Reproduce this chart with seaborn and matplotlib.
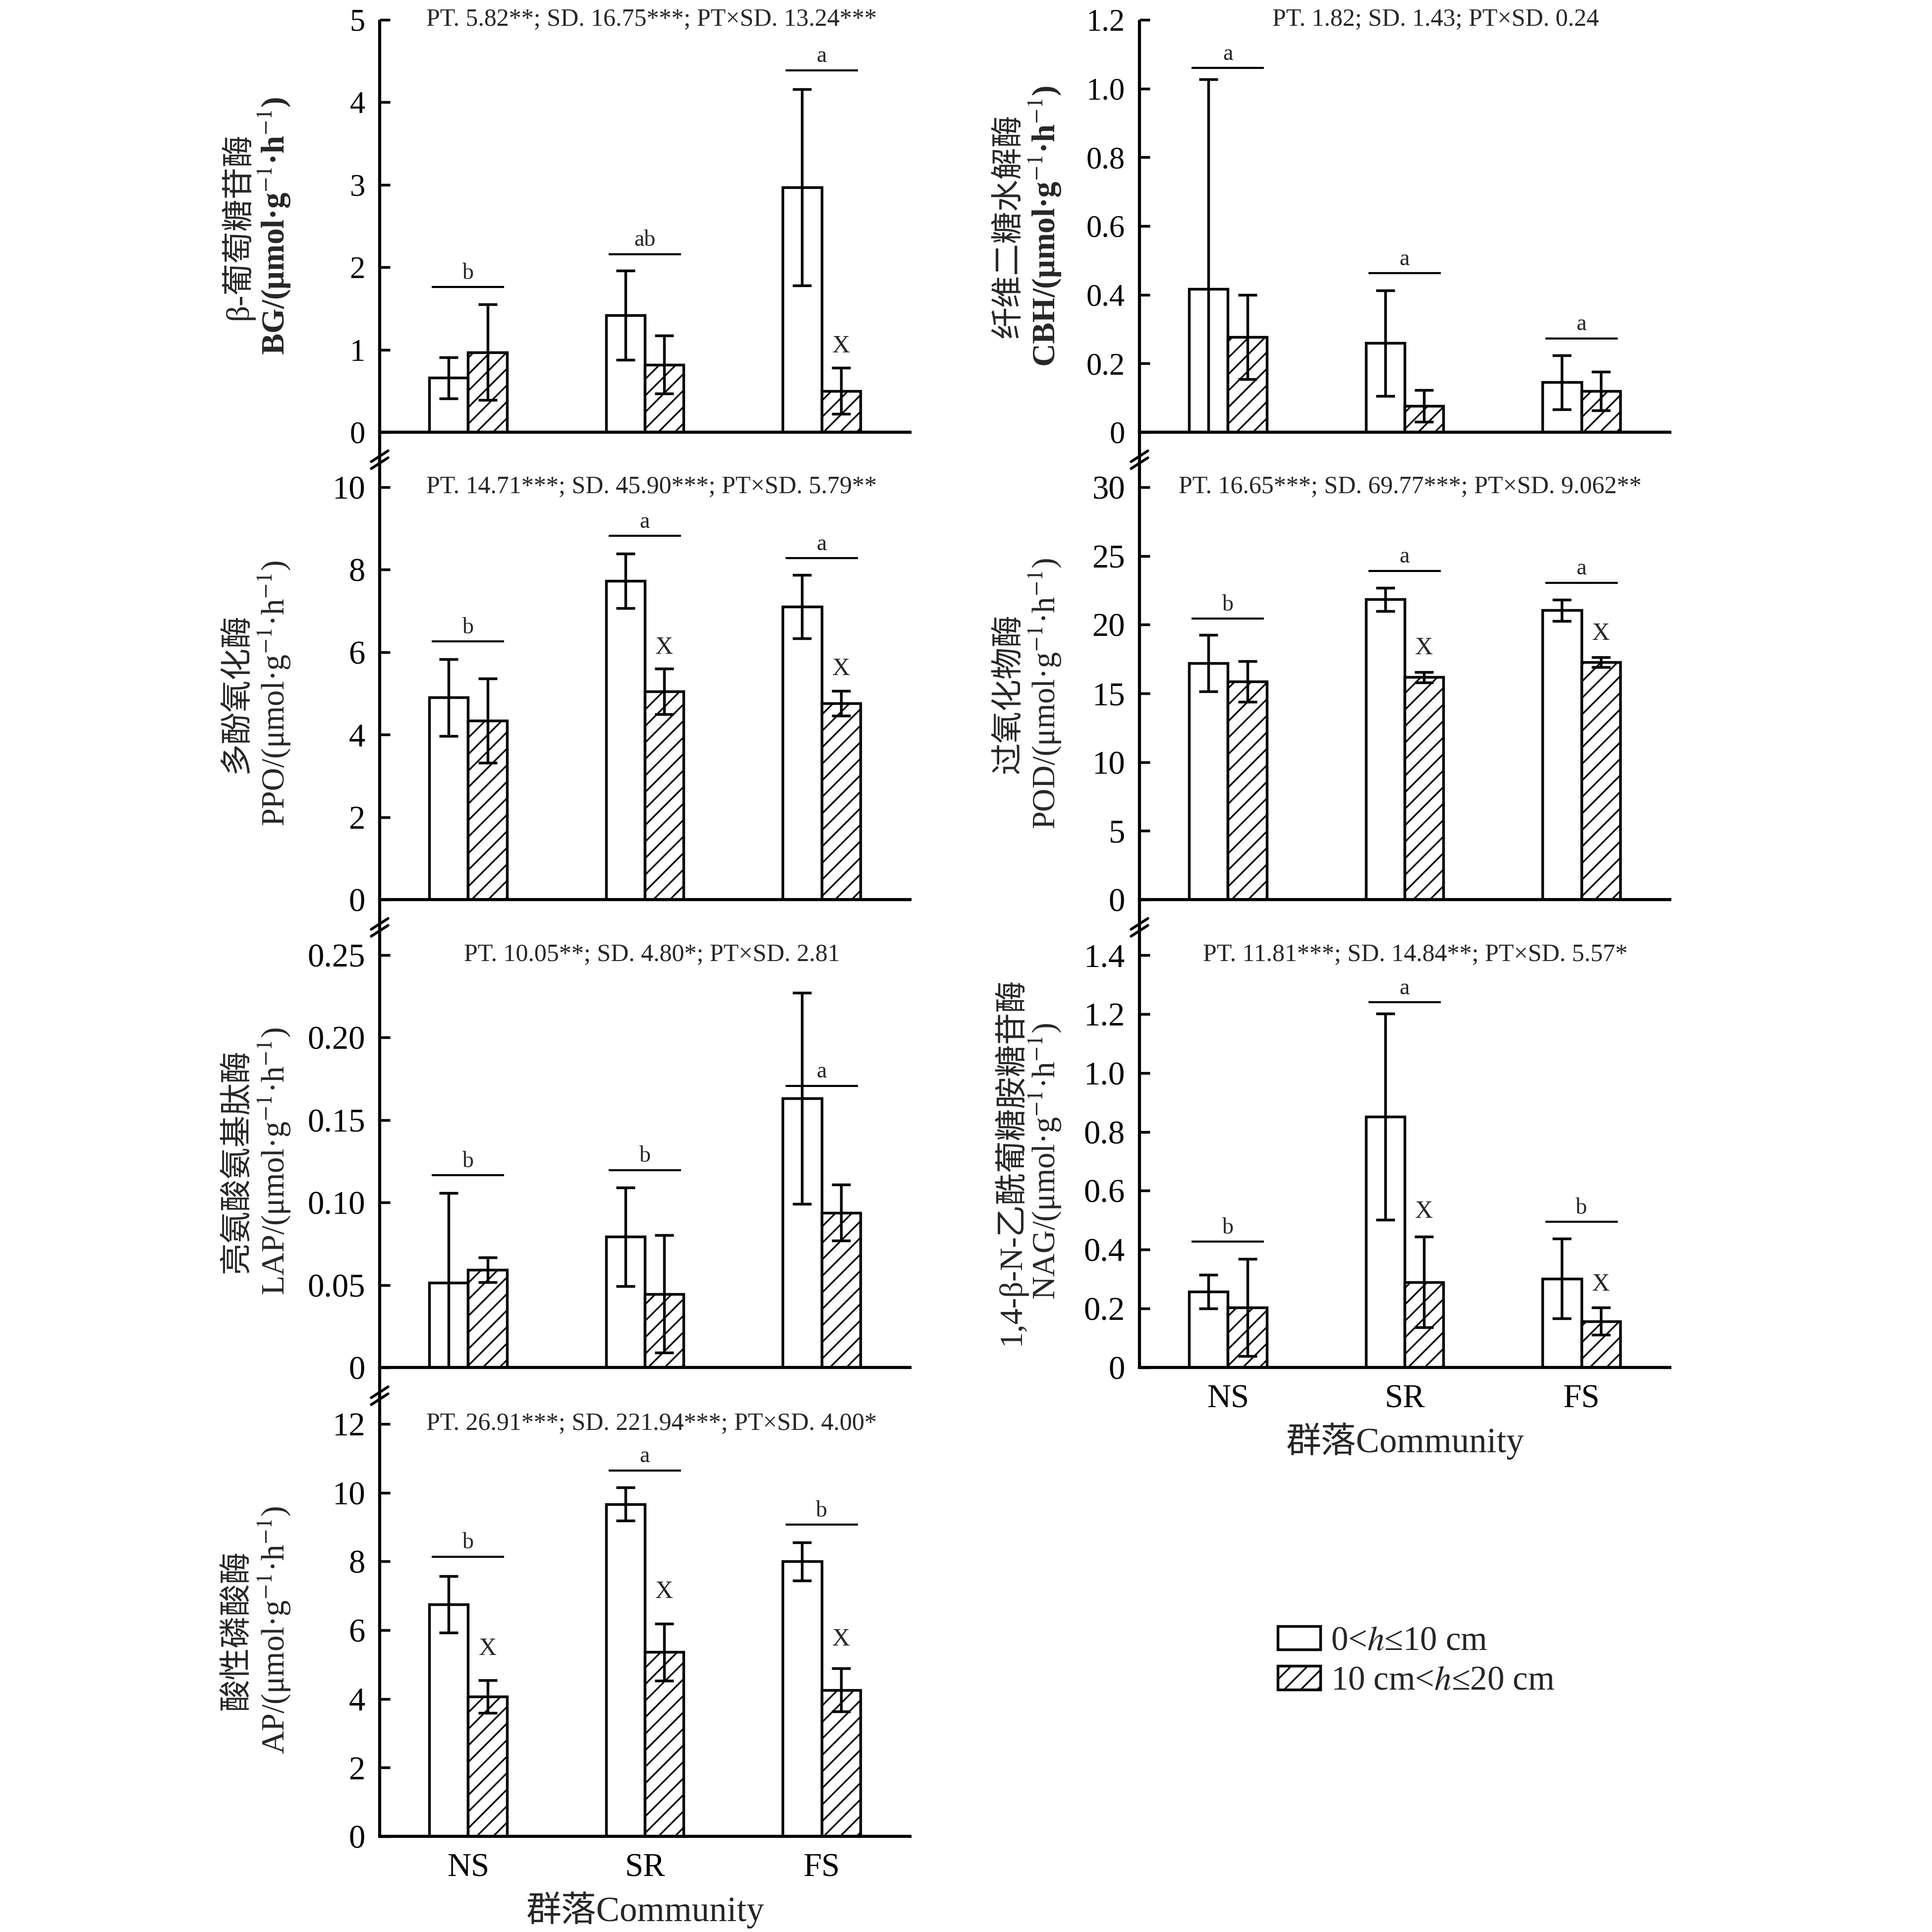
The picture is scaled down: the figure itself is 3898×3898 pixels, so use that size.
import numpy as np
import pandas as pd
import matplotlib.pyplot as plt
from matplotlib.lines import Line2D
import seaborn as sns

communities = ["NS", "SR", "FS"]
depth_keys = ["top", "sub"]
depth_labels = ["0<$h$≤10 cm", "10 cm<$h$≤20 cm"]

# BG
bg_top = [0.66, 1.42, 2.97]
bg_top_sd = [0.25, 0.54, 1.19]
bg_sub = [0.97, 0.82, 0.50]
bg_sub_sd = [0.58, 0.35, 0.28]
bg_sig = [1.76, 2.16, 4.39]
bg_letters = ["b", "ab", "a"]
bg_x = [None, None, 1.04]

# CBH
cbh_top = [0.417, 0.259, 0.145]
cbh_top_sd = [0.61, 0.154, 0.079]
cbh_sub = [0.277, 0.076, 0.120]
cbh_sub_sd = [0.123, 0.046, 0.056]
cbh_sig = [1.06, 0.463, 0.273]
cbh_letters = ["a", "a", "a"]
cbh_x = [None, None, None]

# PPO
ppo_top = [4.90, 7.73, 7.10]
ppo_top_sd = [0.93, 0.66, 0.77]
ppo_sub = [4.34, 5.05, 4.76]
ppo_sub_sd = [1.02, 0.55, 0.30]
ppo_sig = [6.26, 8.82, 8.28]
ppo_letters = ["b", "a", "a"]
ppo_x = [None, 6.11, 5.59]

# POD
pod_top = [17.2, 21.84, 21.05]
pod_top_sd = [2.05, 0.85, 0.78]
pod_sub = [15.87, 16.18, 17.27]
pod_sub_sd = [1.48, 0.38, 0.35]
pod_sig = [20.45, 23.92, 23.05]
pod_letters = ["b", "a", "a"]
pod_x = [None, 18.3, 19.35]

# LAP
lap_top = [0.0514, 0.0792, 0.1631]
lap_top_sd = [0.0545, 0.030, 0.064]
lap_sub = [0.0592, 0.0445, 0.0938]
lap_sub_sd = [0.0075, 0.0356, 0.017]
lap_sig = [0.1166, 0.1197, 0.1708]
lap_letters = ["b", "b", "a"]
lap_x = [None, None, None]

# NAG
nag_top = [0.258, 0.851, 0.302]
nag_top_sd = [0.057, 0.35, 0.135]
nag_sub = [0.203, 0.290, 0.157]
nag_sub_sd = [0.165, 0.154, 0.046]
nag_sig = [0.427, 1.24, 0.494]
nag_letters = ["b", "a", "b"]
nag_x = [None, 0.528, 0.282]

# AP
ap_top = [6.75, 9.67, 8.00]
ap_top_sd = [0.82, 0.48, 0.56]
ap_sub = [4.07, 5.36, 4.26]
ap_sub_sd = [0.48, 0.83, 0.63]
ap_sig = [8.14, 10.65, 9.07]
ap_letters = ["b", "a", "b"]
ap_x = [5.46, 7.11, 5.73]

bg_ticks = [0, 1, 2, 3, 4, 5]
bg_ticklabels = ["0", "1", "2", "3", "4", "5"]
cbh_ticks = [0, 0.2, 0.4, 0.6, 0.8, 1.0, 1.2]
cbh_ticklabels = ["0", "0.2", "0.4", "0.6", "0.8", "1.0", "1.2"]
ppo_ticks = [0, 2, 4, 6, 8, 10]
ppo_ticklabels = ["0", "2", "4", "6", "8", "10"]
pod_ticks = [0, 5, 10, 15, 20, 25, 30]
pod_ticklabels = ["0", "5", "10", "15", "20", "25", "30"]
lap_ticks = [0, 0.05, 0.10, 0.15, 0.20, 0.25]
lap_ticklabels = ["0", "0.05", "0.10", "0.15", "0.20", "0.25"]
nag_ticks = [0, 0.2, 0.4, 0.6, 0.8, 1.0, 1.2, 1.4]
nag_ticklabels = ["0", "0.2", "0.4", "0.6", "0.8", "1.0", "1.2", "1.4"]
ap_ticks = [0, 2, 4, 6, 8, 10, 12]
ap_ticklabels = ["0", "2", "4", "6", "8", "10", "12"]

bg_stats = "PT. 5.82**; SD. 16.75***; PT×SD. 13.24***"
cbh_stats = "PT. 1.82; SD. 1.43; PT×SD. 0.24"
ppo_stats = "PT. 14.71***; SD. 45.90***; PT×SD. 5.79**"
pod_stats = "PT. 16.65***; SD. 69.77***; PT×SD. 9.062**"
lap_stats = "PT. 10.05**; SD. 4.80*; PT×SD. 2.81"
nag_stats = "PT. 11.81***; SD. 14.84**; PT×SD. 5.57*"
ap_stats = "PT. 26.91***; SD. 221.94***; PT×SD. 4.00*"

unit = "/(μmol·g$^{-1}$·h$^{-1}$)"
xlabel = "群落Community"

sns.set_theme(style="ticks")
plt.rcParams["font.family"] = ["Liberation Serif", "Noto Sans CJK SC"]
plt.rcParams["mathtext.fontset"] = "stix"
plt.rcParams["hatch.linewidth"] = 0.8
plt.rcParams["axes.linewidth"] = 1.5

W = 3898
fig = plt.figure(figsize=(W / 300, W / 300), dpi=300)


def fx(px):
    return px / W


def fy(py):
    return 1 - py / W


col_x = [766, 2299]
ax_w = 1070
row_top = [40, 983, 1927, 2873]
ax_h = 832

panels = [
    (0, 0, bg_top, bg_top_sd, bg_sub, bg_sub_sd, bg_sig, bg_letters, bg_x, bg_ticks, bg_ticklabels,
     "β-葡萄糖苷酶", "BG", bg_stats, 0.513, False),
    (1, 0, cbh_top, cbh_top_sd, cbh_sub, cbh_sub_sd, cbh_sig, cbh_letters, cbh_x, cbh_ticks, cbh_ticklabels,
     "纤维二糖水解酶", "CBH", cbh_stats, 0.558, False),
    (0, 1, ppo_top, ppo_top_sd, ppo_sub, ppo_sub_sd, ppo_sig, ppo_letters, ppo_x, ppo_ticks, ppo_ticklabels,
     "多酚氧化酶", "PPO", ppo_stats, 0.513, False),
    (1, 1, pod_top, pod_top_sd, pod_sub, pod_sub_sd, pod_sig, pod_letters, pod_x, pod_ticks, pod_ticklabels,
     "过氧化物酶", "POD", pod_stats, 0.51, False),
    (0, 2, lap_top, lap_top_sd, lap_sub, lap_sub_sd, lap_sig, lap_letters, lap_x, lap_ticks, lap_ticklabels,
     "亮氨酸氨基肽酶", "LAP", lap_stats, 0.513, False),
    (1, 2, nag_top, nag_top_sd, nag_sub, nag_sub_sd, nag_sig, nag_letters, nag_x, nag_ticks, nag_ticklabels,
     "1,4-β-N-乙酰葡糖胺糖苷酶", "NAG", nag_stats, 0.52, True),
    (0, 3, ap_top, ap_top_sd, ap_sub, ap_sub_sd, ap_sig, ap_letters, ap_x, ap_ticks, ap_ticklabels,
     "酸性磷酸酶", "AP", ap_stats, 0.513, True),
]

label_x = [(479, 553), (2037, 2108)]
legend_bars = None

for (c, r, top, top_sd, sub, sub_sd, sig, letters, xmark, ticks, ticklabels,
     name_cn, name_en, stats, stats_x, bottom) in panels:
    df = pd.DataFrame({
        "community": communities * 2,
        "depth": [depth_keys[0]] * 3 + [depth_keys[1]] * 3,
        "value": top + sub,
    })
    ax = fig.add_axes([fx(col_x[c]), fy(row_top[r] + ax_h), fx(ax_w), ax_h / W])
    sns.barplot(data=df, x="community", y="value", hue="depth", order=communities,
                hue_order=depth_keys, palette=["white", "white"], saturation=1,
                width=0.44, errorbar=None, edgecolor="black", linewidth=1.3,
                legend=False, ax=ax)
    bars = [list(ax.containers[0]), list(ax.containers[1])]
    for b in bars[1]:
        b.set_hatch("///")
    for cont, sds in zip(bars, (top_sd, sub_sd)):
        xs = [b.get_x() + b.get_width() / 2 for b in cont]
        ys = [b.get_height() for b in cont]
        ax.errorbar(xs, ys, yerr=sds, fmt="none", ecolor="black", elinewidth=1.3,
                    capsize=4.5, capthick=1.3, zorder=4)
    pos = np.arange(len(communities))
    ax.hlines(sig, pos - 0.205, pos + 0.205, color="black", lw=1.0)
    for i, (yv, lt) in enumerate(zip(sig, letters)):
        ax.annotate(lt, (i, yv), xytext=(0, 1.5), textcoords="offset points",
                    ha="center", va="bottom", fontsize=11)
    for i, yv in enumerate(xmark):
        if yv is not None:
            b = bars[1][i]
            ax.text(b.get_x() + b.get_width() / 2, yv, "X", ha="center", va="center", fontsize=12)

    ax.set_xlim(-0.5, 2.5)
    ax.set_ylim(ticks[0], ticks[-1])
    ax.set_yticks(ticks)
    ax.set_yticklabels(ticklabels)
    ax.tick_params(axis="y", direction="in", length=5, width=1.3, pad=7,
                   labelsize=15 if r == 0 else 16, colors="black")
    ax.tick_params(axis="x", length=0, pad=8, labelsize=16, colors="black")
    ax.set_ylabel("")
    if bottom:
        ax.set_xticklabels(communities)
        ax.set_xlabel(xlabel, fontsize=17, labelpad=4)
        legend_bars = bars
    else:
        ax.set_xticklabels([])
        ax.set_xlabel("")
    for s in ("top", "right", "left"):
        ax.spines[s].set_visible(False)
    ax.spines["bottom"].set_linewidth(1.5)
    ax.spines["bottom"].set_color("black")

    ax.text(stats_x, 1.0, stats, transform=ax.transAxes, ha="center", va="center", fontsize=12)

    yc = fy(row_top[r] + ax_h / 2)
    fig.text(fx(label_x[c][0]), yc, name_cn, rotation=90, ha="center", va="center", fontsize=15.5)
    fig.text(fx(label_x[c][1]), yc, name_en + unit, rotation=90, ha="center", va="center",
             fontsize=15.5, fontweight="bold" if r == 0 else "normal")

# continuous y axes with break marks
col_bottom = [row_top[3] + ax_h, row_top[2] + ax_h]
for c in range(2):
    x = col_x[c]
    fig.add_artist(Line2D([fx(x), fx(x)], [fy(row_top[0]), fy(col_bottom[c])],
                          lw=1.5, color="black", solid_capstyle="butt"))
    n_gaps = 3 if c == 0 else 2
    for g in range(n_gaps):
        yc = (row_top[g] + ax_h + row_top[g + 1]) / 2
        for off in (-7, 7):
            fig.add_artist(Line2D([fx(x - 17), fx(x + 17)], [fy(yc + off + 11), fy(yc + off - 11)],
                                  lw=1.3, color="black"))

fig.legend(handles=[legend_bars[0][0], legend_bars[1][0]], labels=depth_labels,
           loc="upper left", bbox_to_anchor=(fx(2578), fy(3280)), frameon=False,
           borderpad=0, borderaxespad=0, handlelength=1.25, handleheight=0.68,
           handletextpad=0.3, labelspacing=0.25, fontsize=16.5)

fig.savefig("out.png", dpi=300)
